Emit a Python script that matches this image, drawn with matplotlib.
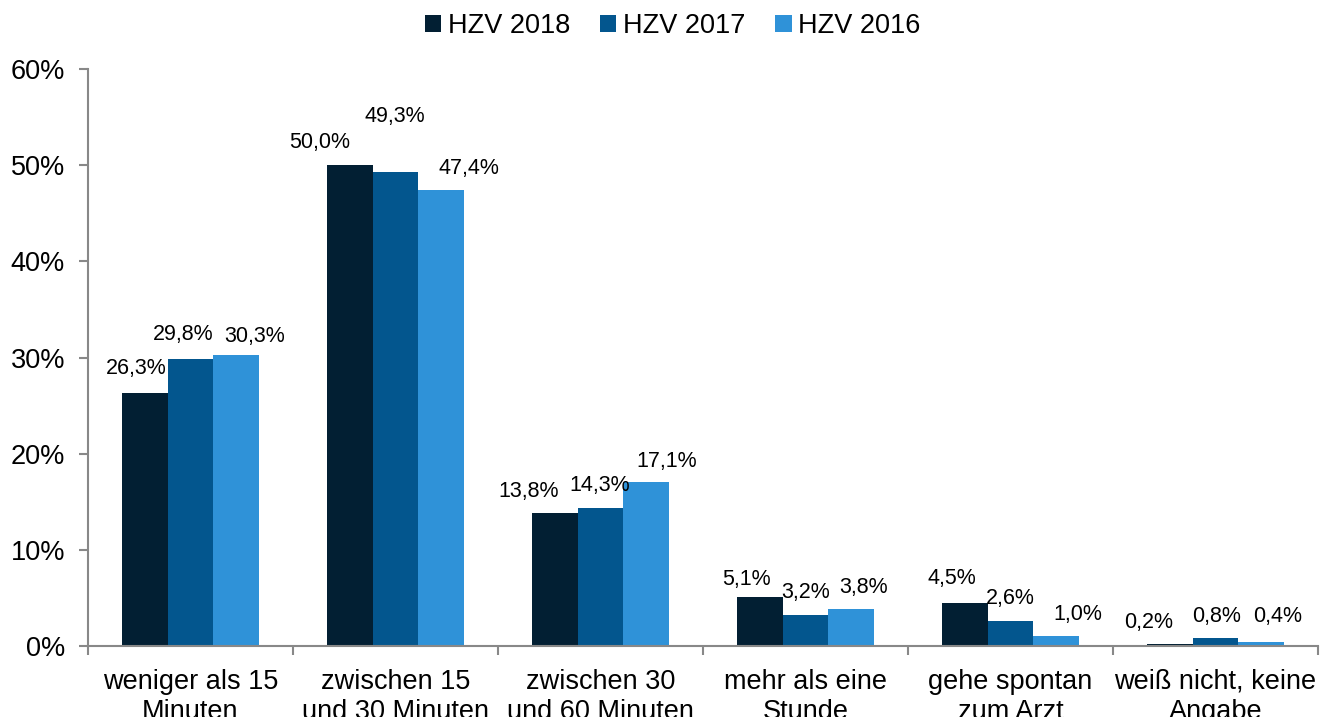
import matplotlib
matplotlib.use("Agg")
import matplotlib.pyplot as plt
import numpy as np
from matplotlib.ticker import FuncFormatter, FixedLocator

plt.rcParams['font.family'] = ['Liberation Sans', 'DejaVu Sans']

categories = ["weniger als 15\nMinuten", "zwischen 15\nund 30 Minuten", "zwischen 30\nund 60 Minuten",
              "mehr als eine\nStunde", "gehe spontan\nzum Arzt", "weiß nicht, keine\nAngabe"]
series_names = ["HZV 2018", "HZV 2017", "HZV 2016"]
hzv_2018 = [26.3, 50.0, 13.8, 5.1, 4.5, 0.2]
hzv_2017 = [29.8, 49.3, 14.3, 3.2, 2.6, 0.8]
hzv_2016 = [30.3, 47.4, 17.1, 3.8, 1.0, 0.4]
series = [hzv_2018, hzv_2017, hzv_2016]
colors = ["#021F33", "#03568E", "#2F92D8"]

# label nudges in pixels (dx, dy) relative to bar top-centre, per series then category
label_offsets = [
    [(-9, 25), (-30, 23), (-26, 22), (-13, 17), (-13, 24), (-21, 22)],
    [(-7, 25), (-1, 55), (-1, 23), (0, 23), (0, 22), (1, 22)],
    [(18, 18), (28, 22), (20, 20), (12, 22), (22, 22), (16, 26)],
]

fig = plt.figure(figsize=(13.32, 7.17), dpi=100)
ax = fig.add_axes([88/1332, 71/717, (1318-88)/1332, (646-69)/717])

x = np.arange(len(categories))
w = 0.223
for i, (vals, name, c) in enumerate(zip(series, series_names, colors)):
    pos = x + (i - 1) * w
    ax.bar(pos, vals, width=w, color=c, label=name, zorder=2)
    for j, (p, v) in enumerate(zip(pos, vals)):
        dx, dy = label_offsets[i][j]
        ax.annotate(f"{v:.1f}%".replace(".", ","), xy=(p, v), xytext=(dx, dy),
                    textcoords="offset pixels", ha="center", va="center", fontsize=15.5, color="#000000")

ax.set_xlim(-0.5, len(categories) - 0.5)
ax.set_ylim(0, 60)
ax.set_yticks(np.arange(0, 61, 10))
ax.yaxis.set_major_formatter(FuncFormatter(lambda v, p: f"{int(v)}%"))
ax.set_xticks(x)
ax.set_xticklabels(categories, fontsize=19.5, linespacing=1.2)
ax.xaxis.set_minor_locator(FixedLocator(np.arange(-0.5, len(categories), 1.0)))
ax.tick_params(axis='x', which='major', length=0, pad=16.5)
ax.tick_params(axis='x', which='minor', length=6.5, width=1.5, color="#888888")
ax.tick_params(axis='y', which='major', length=6.5, width=1.5, color="#888888", labelsize=19.5, pad=10)

for s in ['top', 'right']:
    ax.spines[s].set_visible(False)
for s in ['left', 'bottom']:
    ax.spines[s].set_color("#888888")
    ax.spines[s].set_linewidth(1.5)

leg = fig.legend(loc="center", bbox_to_anchor=(673/1332, 1 - 26/717), ncol=3, frameon=False,
                 fontsize=19.5, handlelength=0.6, handleheight=0.6, handletextpad=0.25, columnspacing=1.1)

fig.savefig("out.png", dpi=100)
